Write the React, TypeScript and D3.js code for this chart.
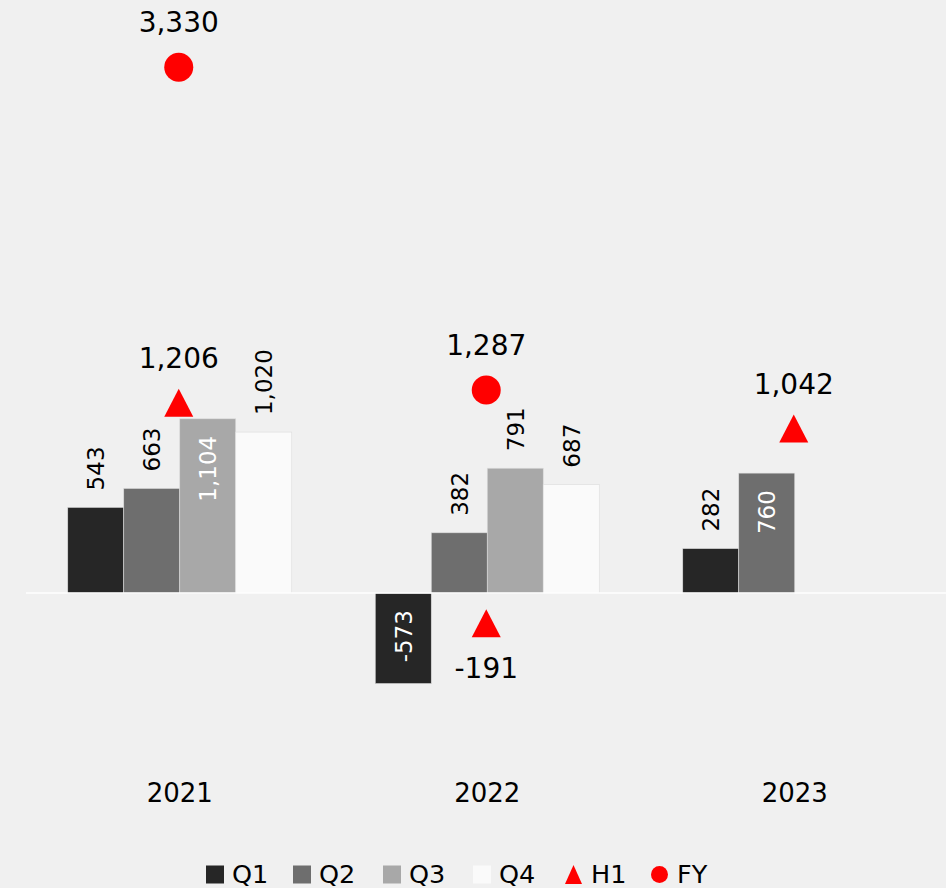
import React from 'react';
import * as d3 from 'd3';

const years = ['2021', '2022', '2023'];
const quarters = ['Q1', 'Q2', 'Q3', 'Q4'];
const q1 = [543, -573, 282];
const q2 = [663, 382, 760];
const q3 = [1104, 791, null];
const q4 = [1020, 687, null];
const h1 = [1206, -191, 1042];
const fy = [3330, 1287, null];

const quarterColors = ['#262626', '#6e6e6e', '#a8a8a8', '#fafafa'];
// which bar labels sit inside the bar (white text)
const insideLabels = [
  [false, true, false],
  [false, false, true],
  [true, false, false],
  [false, false, false],
];

const W = 946;
const H = 888;
const FONT = '"DejaVu Sans", Verdana, sans-serif';
// plain hyphen for negatives, like the original
const fmt = d3
  .formatLocale({ decimal: '.', thousands: ',', grouping: [3], currency: ['$', ''], minus: '-' })
  .format(',');

// triangle a bit taller than d3's equilateral one
const triPath = (w: number, h: number) => {
  const p = d3.path();
  p.moveTo(0, -h / 2);
  p.lineTo(w / 2, h / 2);
  p.lineTo(-w / 2, h / 2);
  p.closePath();
  return p.toString();
};

export default function App() {
  const series = [q1, q2, q3, q4];

  const x = d3.scaleBand().domain(years).range([26, 948.5]).paddingInner(0).paddingOuter(0);
  const xq = d3.scaleBand().domain(quarters).range([0, 224]);
  const groupOffset = (x.bandwidth() - 224) / 2;
  const y = d3.scaleLinear().domain([-1000, 3500]).range([751, 40.5]);
  const y0 = y(0);

  const legendItems = [
    { key: 'Q1', kind: 'rect', color: quarterColors[0], x: 206 },
    { key: 'Q2', kind: 'rect', color: quarterColors[1], x: 293 },
    { key: 'Q3', kind: 'rect', color: quarterColors[2], x: 383 },
    { key: 'Q4', kind: 'rect', color: quarterColors[3], x: 473 },
    { key: 'H1', kind: 'tri', color: '#ff0000', x: 565 },
    { key: 'FY', kind: 'circle', color: '#ff0000', x: 651 },
  ];

  return (
    <svg width={W} height={H} style={{ position: 'absolute', left: 0, top: 0, background: '#f0f0f0' }} fontFamily={FONT}>
      <rect width={W} height={H} fill="#f0f0f0" />
      {years.map((yr, i) => {
        const gx = (x(yr) as number) + groupOffset;
        return (
          <g key={yr}>
            {series.map((s, qi) => {
              const v = s[i];
              if (v == null) return null;
              const bx = gx + (xq(quarters[qi]) as number);
              const bw = xq.bandwidth();
              const top = Math.min(y(v), y0);
              const h = Math.abs(y(v) - y0);
              const inside = insideLabels[qi][i];
              const cx = bx + bw / 2;
              const ly = inside ? top + 17 : top - 17;
              return (
                <g key={qi}>
                  <rect x={bx} y={top} width={bw} height={h} fill={quarterColors[qi]} stroke="#dcdcdc" strokeWidth={0.6} />
                  <text
                    transform={`translate(${cx},${ly}) rotate(-90)`}
                    textAnchor={inside ? 'end' : 'start'}
                    dy="0.36em"
                    fontSize={23}
                    fill={inside ? '#ffffff' : '#000000'}
                  >
                    {fmt(v)}
                  </text>
                </g>
              );
            })}
            <text x={(x(yr) as number) + x.bandwidth() / 2} y={793} dy="0.36em" textAnchor="middle" fontSize={26} fill="#000">
              {yr}
            </text>
          </g>
        );
      })}
      <line x1={26} x2={W} y1={y0} y2={y0} stroke="#ffffff" strokeWidth={1.5} />
      {years.map((yr, i) => {
        const cx = (x(yr) as number) + x.bandwidth() / 2 - 1;
        const hv = h1[i];
        const fv = fy[i];
        return (
          <g key={'m' + yr}>
            {hv != null && (
              <g>
                <path d={triPath(29, 28)} transform={`translate(${cx},${y(hv)})`} fill="#ff0000" />
                <text x={cx} y={y(hv) + (hv < 0 ? 45 : -45)} dy="0.36em" textAnchor="middle" fontSize={28} fill="#000">
                  {fmt(hv)}
                </text>
              </g>
            )}
            {fv != null && (
              <g>
                <circle cx={cx} cy={y(fv)} r={14.5} fill="#ff0000" />
                <text x={cx} y={y(fv) - 45} dy="0.36em" textAnchor="middle" fontSize={28} fill="#000">
                  {fmt(fv)}
                </text>
              </g>
            )}
          </g>
        );
      })}
      <g transform="translate(0,874)">
        {legendItems.map((d) => (
          <g key={d.key} transform={`translate(${d.x},0)`}>
            {d.kind === 'rect' && <rect x={0} y={-8.5} width={18} height={18} fill={d.color} />}
            {d.kind === 'tri' && <path d={triPath(17, 19)} transform="translate(8.5,0.5)" fill={d.color} />}
            {d.kind === 'circle' && <circle cx={8.5} cy={0.5} r={8.5} fill={d.color} />}
            <text x={26} y={0} dy="0.36em" fontSize={25.5} fill="#000">
              {d.key}
            </text>
          </g>
        ))}
      </g>
    </svg>
  );
}
